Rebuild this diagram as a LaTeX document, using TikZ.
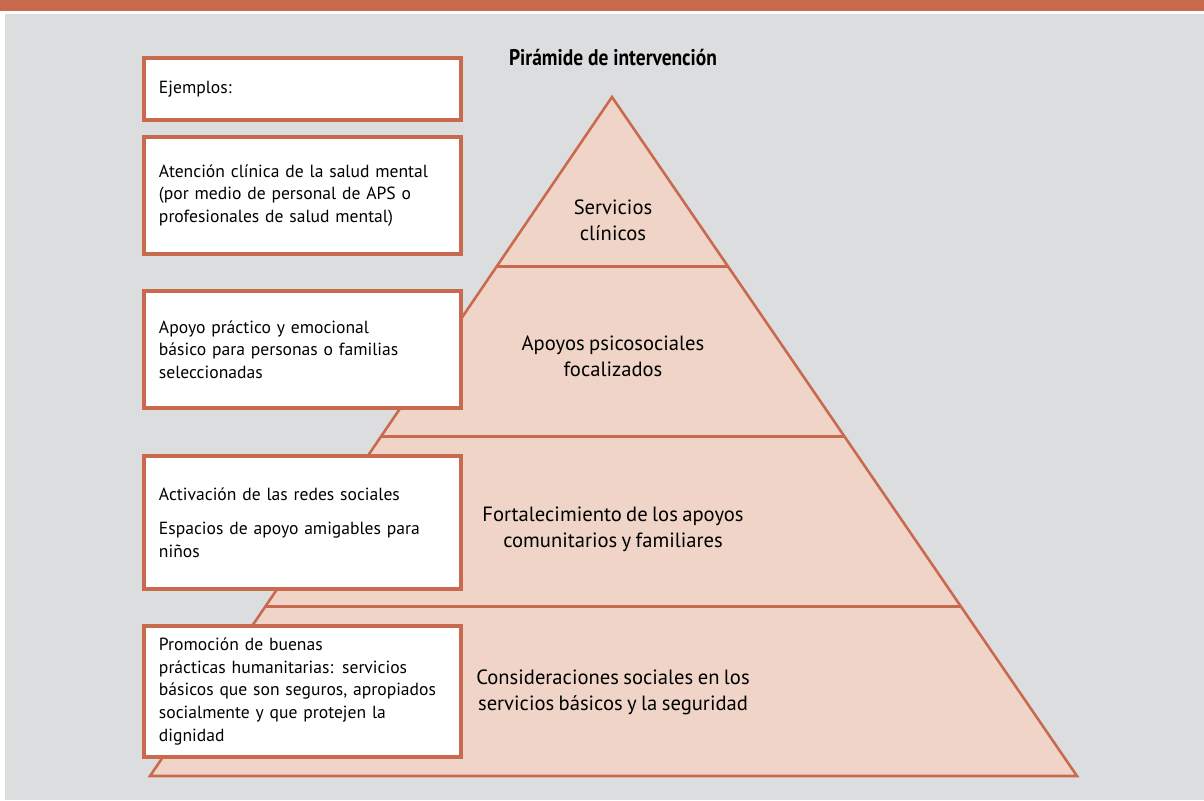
\documentclass[tikz,border=0pt]{standalone}
\usepackage{fontspec}
\setmainfont{PT Sans}[WordSpace=0.8]
\newfontfamily\titlefont{PT Sans}[FakeStretch=0.86]
\usetikzlibrary{calc}

\definecolor{terra}{HTML}{C96A4F}
\definecolor{salmon}{HTML}{EFD4C7}
\definecolor{fondo}{HTML}{DCDDDF}

\tikzset{
  ejbox/.style={draw=terra, fill=white, line width=2.6pt, minimum width=9.51cm,
    inner xsep=0.45cm, text width=8.61cm, align=left,
    font=\fontsize{15}{19.3}\selectfont},
  nivel/.style={align=center, font=\fontsize{17.6}{22.2}\selectfont},
  borde/.style={draw=terra, line width=2.2pt}
}

\begin{document}
\begin{tikzpicture}[x=0.03cm, y=-0.03cm]

    \useasboundingbox (0,0) rectangle (1204,800);

    % background
    \fill[white] (0,0) rectangle (1204,800);
    \fill[fondo] (5,14) rectangle (1204,800);
    \fill[terra] (0,0) rectangle (1204,11);

    % title
    \node[font=\titlefont\fontsize{19.3}{22}\selectfont\bfseries] (titulo) at (613,58) {Pirámide de intervención};

    % pyramid
    \coordinate (cima) at (612,97);
    \coordinate (bi) at (150,776);
    \coordinate (bd) at (1077,776);
    \draw[borde, fill=salmon] (cima) -- (bd) -- (bi) -- cycle;
    \foreach \f in {0.25,0.5,0.75}
        \draw[borde] ($(cima)!\f!(bi)$) -- ($(cima)!\f!(bd)$);

    % levels
    \node[nivel] (clinicos) at (613,220) {Servicios\\clínicos};
    \node[nivel] (focal) at (613,356) {Apoyos psicosociales\\focalizados};
    \node[nivel] (comunit) at (613,529) {Fortalecimiento de los apoyos\\comunitarios y familiares};
    \node[nivel] (basicos) at (613,692) {Consideraciones sociales en los\\servicios básicos y la seguridad};

    % boxes
    \node[ejbox, minimum height=1.86cm] (ejemplos) at (302.5,89) {Ejemplos:};
    \node[ejbox, minimum height=3.51cm] (ejclin) at (302.5,195.5)
        {Atención clínica de la salud mental\\(por medio de personal de APS o\\profesionales de salud mental)};
    \node[ejbox, minimum height=3.51cm] (ejfocal) at (302.5,349.5)
        {Apoyo práctico y emocional\\básico para personas o familias\\seleccionadas};
    \node[ejbox, minimum height=3.99cm] (ejcomu) at (302.5,522.5)
        {Activación de las redes sociales\\[10pt]Espacios de apoyo amigables para\\niños};
    \node[ejbox, minimum height=3.93cm] (ejbasic) at (302.5,691.5)
        {Promoción de buenas\\prácticas humanitarias: servicios\\básicos que son seguros, apropiados\\socialmente y que protejen la\\dignidad};

\end{tikzpicture}
\end{document}
